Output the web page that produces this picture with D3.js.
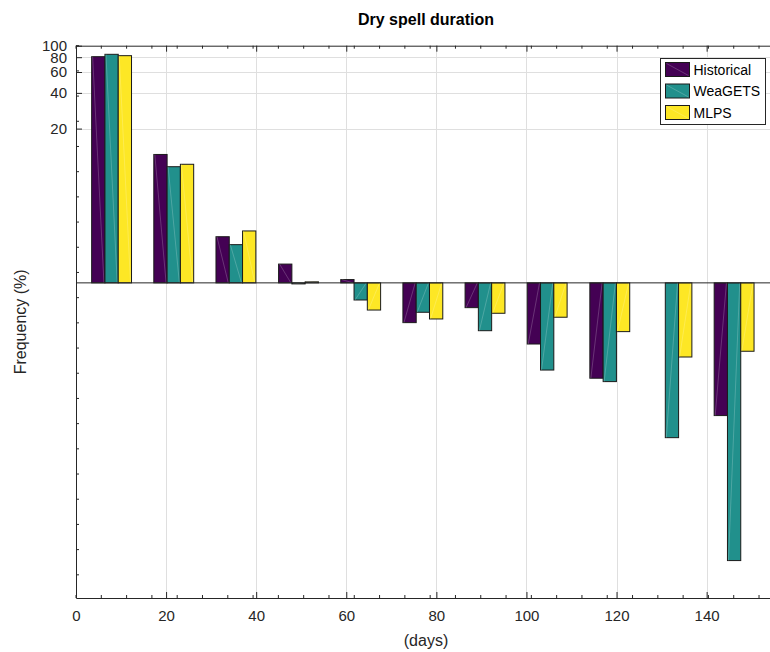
<!DOCTYPE html>
<html>
<head>
<meta charset="utf-8">
<script src="https://cdn.jsdelivr.net/npm/d3@7"></script>
<style>
  body { margin: 0; background: #fff; }
  svg { display: block; font-family: "Liberation Sans", Arial, sans-serif; }
  .tick text { font-size: 15px; fill: #262626; }
</style>
</head>
<body>
<script>
// bin centres (days)
var binCenters = [7.9, 21.7, 35.5, 49.4, 63.2, 77.0, 90.8, 104.6, 118.5, 132.3, 146.1];
var seriesNames = ["Historical", "WeaGETS", "MLPS"];
var historical = [80.8, 12.1, 2.45, 1.44, 1.066, 0.462, 0.618, 0.305, 0.157, 0, 0.076];
var weagets = [84.6, 9.54, 2.10, 0.98, 0.717, 0.565, 0.395, 0.184, 0.147, 0.0495, 0.00455];
var mlps = [82.4, 10.0, 2.74, 1.02, 0.59, 0.496, 0.554, 0.513, 0.388, 0.237, 0.265];
var xTicks = [0, 20, 40, 60, 80, 100, 120, 140];
var yTicks = [20, 40, 60, 80, 100];
var colors = ["#440154", "#21908c", "#fde725"];

var width = 770, height = 652;
var axL = 76, axR = 776, axT = 45.7, axB = 598;

var svg = d3.select("body").append("svg")
  .attr("width", width)
  .attr("height", height);

var x = d3.scaleLinear().domain([0, 155.4]).range([axL, axR]);
var y = d3.scaleLog().domain([0.0022, 100]).range([axB, axT]);
var base = 1;   // bars grow from 1 %
var barW = 2.95; // days

var allSeries = [historical, weagets, mlps];

// grid
var grid = svg.append("g").attr("stroke", "#dfdfdf").attr("stroke-width", 1);
grid.selectAll("line.vx").data(xTicks.slice(1)).enter().append("line")
  .attr("x1", function(d) { return Math.round(x(d)) + 0.5; })
  .attr("x2", function(d) { return Math.round(x(d)) + 0.5; })
  .attr("y1", axT).attr("y2", axB);
grid.selectAll("line.hy").data(yTicks.slice(0, 4)).enter().append("line")
  .attr("y1", function(d) { return Math.round(y(d)) + 0.5; })
  .attr("y2", function(d) { return Math.round(y(d)) + 0.5; })
  .attr("x1", axL).attr("x2", axR);

// bars
var rows = [];
binCenters.forEach(function(c, i) {
  allSeries.forEach(function(s, j) {
    if (s[i] > 0) rows.push({c: c, v: s[i], j: j});
  });
});

var bars = svg.append("g").selectAll("g.bar").data(rows).enter().append("g");

function bx0(d) { return x(d.c + (d.j - 1.5) * barW); }
function bx1(d) { return x(d.c + (d.j - 0.5) * barW); }

bars.append("rect")
  .attr("x", bx0)
  .attr("width", function(d) { return bx1(d) - bx0(d); })
  .attr("y", function(d) { return Math.min(y(d.v), y(base)); })
  .attr("height", function(d) { return Math.abs(y(d.v) - y(base)); })
  .attr("fill", function(d) { return colors[d.j]; })
  .attr("stroke", "#1a1a1a")
  .attr("stroke-width", 1);

bars.append("line")
  .attr("x1", function(d) { return bx0(d) + 1; })
  .attr("y1", function(d) { return y(d.v); })
  .attr("x2", function(d) { return bx1(d) - 1; })
  .attr("y2", y(base))
  .attr("stroke", "#fff")
  .attr("stroke-opacity", 0.25)
  .attr("stroke-width", 0.8);

// baseline
svg.append("line")
  .attr("x1", axL).attr("x2", axR)
  .attr("y1", y(base)).attr("y2", y(base))
  .attr("stroke", "#262626").attr("stroke-width", 1);

// axes
var minorX = d3.range(0, 160, 5.616);
var minorY = d3.range(0, 30).map(function(k) { return 100 * Math.pow(10, -k * 25.2 / 118.6); })
  .filter(function(v) { return v > 0.0022; });

var axes = svg.append("g").attr("stroke", "#262626");
axes.selectAll("line.mx").data(minorX).enter().append("line")
  .attr("x1", function(d) { return x(d); }).attr("x2", function(d) { return x(d); })
  .attr("y1", axB).attr("y2", axB - 3);
axes.selectAll("line.mxt").data(minorX).enter().append("line")
  .attr("x1", function(d) { return x(d); }).attr("x2", function(d) { return x(d); })
  .attr("y1", axT).attr("y2", axT + 3);
axes.selectAll("line.my").data(minorY).enter().append("line")
  .attr("y1", function(d) { return y(d); }).attr("y2", function(d) { return y(d); })
  .attr("x1", axL).attr("x2", axL + 3);

svg.append("g")
  .attr("transform", "translate(0," + axB + ")")
  .call(d3.axisBottom(x).tickValues(xTicks).tickSizeInner(-6).tickSizeOuter(0).tickPadding(12));
svg.append("g")
  .attr("transform", "translate(0," + axT + ")")
  .call(d3.axisTop(x).tickValues(xTicks).tickSizeInner(-6).tickSizeOuter(0).tickFormat(""));
svg.append("g")
  .attr("transform", "translate(" + axL + ",0)")
  .call(d3.axisLeft(y).tickValues(yTicks).tickFormat(d3.format("d")).tickSizeInner(-6).tickSizeOuter(0).tickPadding(9));

svg.selectAll(".domain").attr("stroke", "#262626");
svg.selectAll(".tick line").attr("stroke", "#262626");

// titles
svg.append("text")
  .attr("x", (axL + axR) / 2).attr("y", 25)
  .attr("text-anchor", "middle")
  .attr("font-weight", "bold")
  .attr("font-size", 16)
  .attr("fill", "#000")
  .text("Dry spell duration");

svg.append("text")
  .attr("x", (axL + axR) / 2).attr("y", 646)
  .attr("text-anchor", "middle")
  .attr("font-size", 16)
  .attr("fill", "#262626")
  .text("(days)");

svg.append("text")
  .attr("transform", "translate(26," + ((axT + axB) / 2) + ") rotate(-90)")
  .attr("text-anchor", "middle")
  .attr("font-size", 16)
  .attr("fill", "#262626")
  .text("Frequency (%)");

// legend
var legend = svg.append("g").attr("transform", "translate(660.5,58.5)");
legend.append("rect")
  .attr("width", 105).attr("height", 66)
  .attr("fill", "#fff").attr("stroke", "#262626");
var item = legend.selectAll("g.item").data(seriesNames).enter().append("g")
  .attr("transform", function(d, i) { return "translate(5," + (4 + i * 21.5) + ")"; });
item.append("rect")
  .attr("width", 24).attr("height", 14)
  .attr("fill", function(d, i) { return colors[i]; })
  .attr("stroke", "#1a1a1a");
item.append("line")
  .attr("x1", 1).attr("y1", 1).attr("x2", 23).attr("y2", 13)
  .attr("stroke", "#fff").attr("stroke-opacity", 0.25).attr("stroke-width", 0.8);
item.append("text")
  .attr("x", 28).attr("y", 12)
  .attr("font-size", 14)
  .attr("fill", "#000")
  .text(function(d) { return d; });
</script>
</body>
</html>
